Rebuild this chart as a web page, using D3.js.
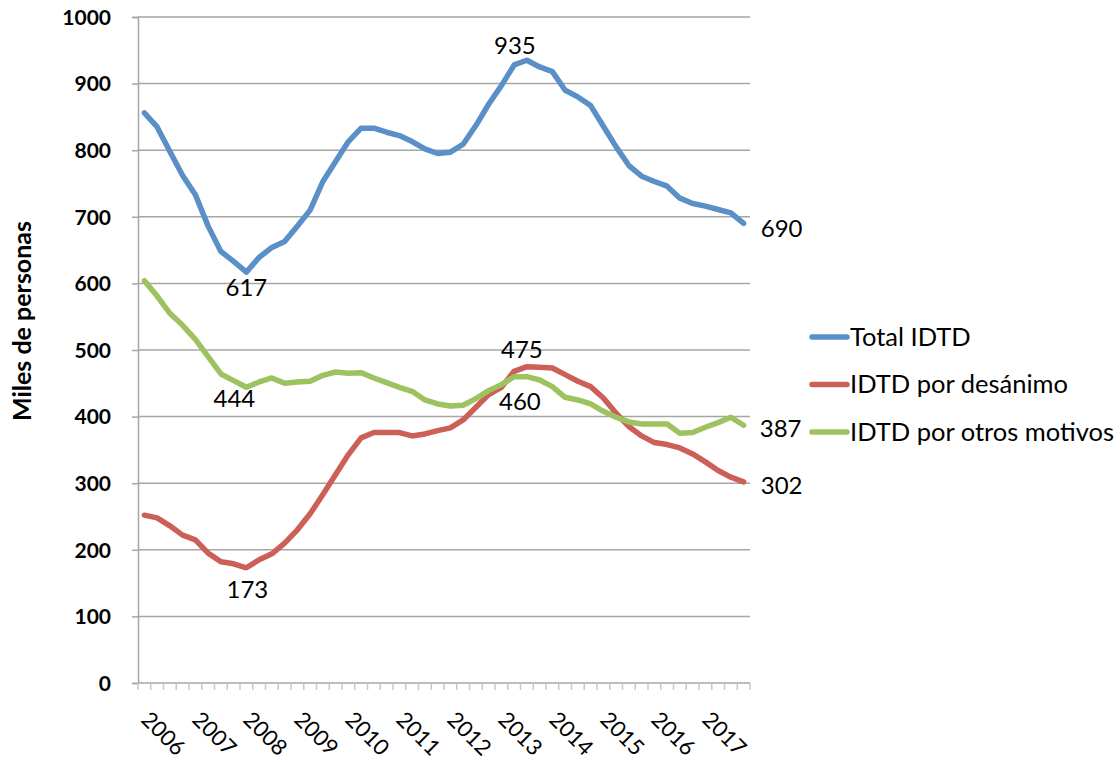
<!DOCTYPE html>
<html lang="es">
  <head>
    <meta charset="UTF-8" />
    <title>IDTD</title>
    <script src="https://cdnjs.cloudflare.com/ajax/libs/d3/7.9.0/d3.min.js"></script>
    <style>
      body { margin: 0; background: #fff; }
      text { font-family: Lato, "Open Sans", sans-serif; fill: #000; }
    </style>
  </head>
  <body>
    <div id="wrapper"></div>
    <script>
      const years = [2006, 2007, 2008, 2009, 2010, 2011, 2012, 2013, 2014, 2015, 2016, 2017];
      const quarters = years.flatMap((y) => ["T1", "T2", "T3", "T4"].map((q) => y + q));

      const total = [856, 835, 798, 762, 733, 686, 648, 633, 617, 639, 654, 663,
        686, 710, 753, 783, 813, 833, 833, 827, 822, 813, 802, 795,
        797, 809, 837, 869, 897, 928, 935, 925, 918, 890, 880, 867,
        836, 805, 777, 761, 753, 746, 728, 720, 716, 711, 706, 690];
      const desanimo = [252, 248, 236, 222, 215, 195, 182, 179, 173, 185, 194, 210,
        230, 254, 283, 313, 343, 368, 376, 376, 376, 371, 374, 379,
        383, 395, 414, 433, 444, 468, 475, 474, 473, 463, 453, 445,
        428, 405, 385, 371, 361, 358, 353, 344, 332, 319, 309, 302];
      const otros = [604, 581, 555, 537, 516, 490, 464, 454, 444, 452, 458, 450,
        452, 453, 462, 467, 465, 466, 458, 451, 444, 438, 425, 419,
        416, 417, 427, 439, 448, 460, 460, 455, 445, 429, 425, 419,
        408, 399, 392, 389, 389, 389, 375, 376, 384, 391, 399, 387];

      const series = [
        { name: "Total IDTD", values: total, color: "#5b8fc8" },
        { name: "IDTD por desánimo", values: desanimo, color: "#cc5f58" },
        { name: "IDTD por otros motivos", values: otros, color: "#9dc25f" },
      ];

      // etiquetas de datos: serie, trimestre, desplazamiento
      const labels = [
        { s: 0, i: 8, dx: 0, dy: 16 },
        { s: 0, i: 30, dx: -12, dy: -15 },
        { s: 0, i: 47, dx: 38, dy: 5 },
        { s: 1, i: 8, dx: 1, dy: 22 },
        { s: 1, i: 30, dx: -5, dy: -17 },
        { s: 1, i: 47, dx: 38, dy: 4 },
        { s: 2, i: 8, dx: -12, dy: 11 },
        { s: 2, i: 30, dx: -7, dy: 25 },
        { s: 2, i: 47, dx: 37, dy: 3 },
      ];

      const dimensions = {
        width: 1120,
        height: 762,
        margin: { top: 17, right: 370, bottom: 79, left: 138 },
      };
      dimensions.boundedWidth = dimensions.width - dimensions.margin.left - dimensions.margin.right;
      dimensions.boundedHeight = dimensions.height - dimensions.margin.top - dimensions.margin.bottom;

      const svg = d3.select("#wrapper")
        .append("svg")
        .attr("width", dimensions.width)
        .attr("height", dimensions.height);

      const bounds = svg.append("g")
        .attr("transform", `translate(${dimensions.margin.left},${dimensions.margin.top})`);

      const xScale = d3.scaleBand()
        .domain(quarters)
        .range([0, dimensions.boundedWidth]);
      const xCenter = (i) => xScale(quarters[i]) + xScale.bandwidth() / 2;

      const yScale = d3.scaleLinear()
        .domain([0, 1000])
        .range([dimensions.boundedHeight, 0]);

      // rejilla
      bounds.append("g")
        .selectAll("line")
        .data(yScale.ticks(10).filter((d) => d > 0))
        .join("line")
        .attr("x1", 0)
        .attr("x2", dimensions.boundedWidth)
        .attr("y1", (d) => yScale(d))
        .attr("y2", (d) => yScale(d))
        .attr("stroke", "#a6a6a6")
        .attr("stroke-width", 1.5);

      // eje y
      const yAxis = bounds.append("g")
        .call(d3.axisLeft(yScale).ticks(10).tickFormat(d3.format("d")).tickSize(6).tickPadding(21));
      yAxis.select(".domain").attr("stroke", "#a6a6a6").attr("stroke-width", 1.5);
      yAxis.selectAll(".tick line").attr("stroke", "#a6a6a6").attr("stroke-width", 1.5);
      yAxis.selectAll(".tick text")
        .style("font-size", "21px")
        .style("font-weight", "bold")
        .attr("dy", "0.35em");

      // eje x: marcas entre categorías
      const xAxis = bounds.append("g")
        .attr("transform", `translate(0,${dimensions.boundedHeight})`);
      xAxis.append("line")
        .attr("x1", 0)
        .attr("x2", dimensions.boundedWidth)
        .attr("stroke", "#a6a6a6")
        .attr("stroke-width", 1.5);
      xAxis.selectAll(".qtick")
        .data(quarters.concat(["end"]))
        .join("line")
        .attr("class", "qtick")
        .attr("x1", (d, i) => i * xScale.bandwidth())
        .attr("x2", (d, i) => i * xScale.bandwidth())
        .attr("y1", 0)
        .attr("y2", 7)
        .attr("stroke", "#c8c8c8")
        .attr("stroke-width", 1.5);
      xAxis.selectAll(".ylabel")
        .data(years)
        .join("text")
        .attr("class", "ylabel")
        .attr("transform", (d) => `translate(${xScale(d + "T1") + 2},${38}) rotate(45)`)
        .style("font-size", "22px")
        .text((d) => d);

      // líneas
      const lineGenerator = d3.line()
        .x((d, i) => xCenter(i))
        .y((d) => yScale(d));

      bounds.selectAll(".serie")
        .data(series)
        .join("path")
        .attr("class", "serie")
        .attr("d", (d) => lineGenerator(d.values))
        .attr("fill", "none")
        .attr("stroke", (d) => d.color)
        .attr("stroke-width", 5.5)
        .attr("stroke-linejoin", "round")
        .attr("stroke-linecap", "round");

      // etiquetas de datos
      bounds.selectAll(".dlabel")
        .data(labels)
        .join("text")
        .attr("class", "dlabel")
        .attr("x", (d) => xCenter(d.i) + d.dx)
        .attr("y", (d) => yScale(series[d.s].values[d.i]) + d.dy)
        .attr("text-anchor", "middle")
        .attr("dy", "0.35em")
        .style("font-size", "24px")
        .text((d) => series[d.s].values[d.i]);

      // título del eje y
      svg.append("text")
        .attr("transform", `translate(31,321) rotate(-90)`)
        .attr("text-anchor", "middle")
        .style("font-size", "25px")
        .style("font-weight", "bold")
        .text("Miles de personas");

      // leyenda
      const legend = svg.append("g").attr("transform", "translate(810,337)");
      const item = legend.selectAll("g")
        .data(series)
        .join("g")
        .attr("transform", (d, i) => `translate(0,${i * 47.5})`);
      item.append("line")
        .attr("x1", 2)
        .attr("x2", 37)
        .attr("stroke", (d) => d.color)
        .attr("stroke-width", 5.5)
        .attr("stroke-linecap", "round");
      item.append("text")
        .attr("x", 40)
        .attr("dy", "0.35em")
        .style("font-size", "25.5px")
        .text((d) => d.name);
    </script>
  </body>
</html>
